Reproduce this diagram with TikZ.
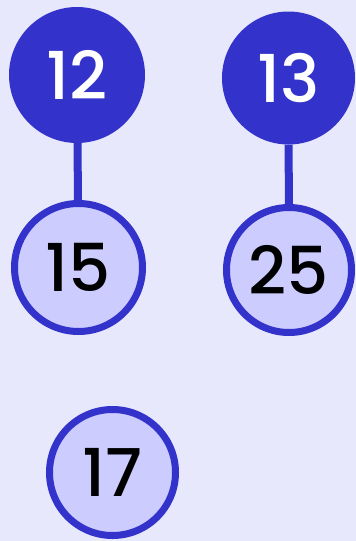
\documentclass[tikz,border=0pt]{standalone}
\usepackage{fontspec}
\setmainfont{Poppins}[BoldFont={Poppins Medium}]
\usetikzlibrary{positioning}
\definecolor{heapBg}{HTML}{E8E8FC}
\definecolor{heapDark}{HTML}{3333CC}
\definecolor{heapLight}{HTML}{CCCCFF}
\tikzset{
  rootNode/.style={circle, fill=heapDark, text=white, inner sep=0pt,
                   minimum size=136pt, font=\fontsize{66}{66}\selectfont\bfseries},
  childNode/.style={circle, draw=heapDark, fill=heapLight, text=black, inner sep=0pt,
                    line width=7pt, minimum size=128pt, font=\fontsize{66}{66}\selectfont\bfseries},
  linkE/.style={heapDark, line width=8pt},
}
\begin{document}
\begin{tikzpicture}[x=1pt, y=-1pt]
    \fill[heapBg] (0,0) rectangle (356,541);
    \useasboundingbox (0,0) rectangle (356,541);
    \node[rootNode] (n12) at (77,75) {12};
    \node[rootNode, minimum size=133pt] (n13) at (288.5,78) {13};
    \node[childNode] (n15) at (78.5,267.5) {15};
    \node[childNode, minimum size=125pt] (n25) at (289,270) {25};
    \node[childNode, minimum size=126pt] (n17) at (112.5,472.5) {17};
    \draw[linkE] (n12) -- (n15); \draw[linkE] (n13) -- (n25);
  \end{tikzpicture}
\end{document}
